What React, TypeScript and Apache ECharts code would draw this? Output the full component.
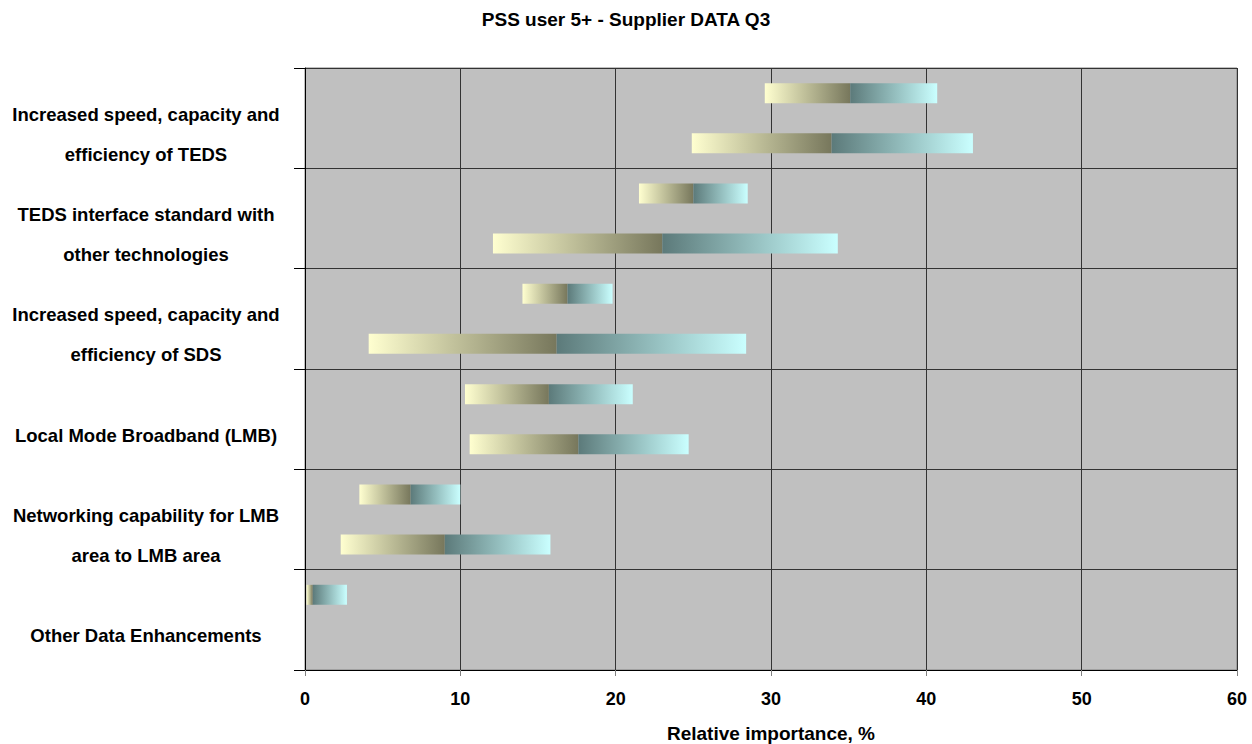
import React, { useEffect, useRef } from "react";
import * as echarts from "echarts";

const categories = [
  "Increased speed, capacity and\nefficiency of TEDS",
  "TEDS interface standard with\nother technologies",
  "Increased speed, capacity and\nefficiency of SDS",
  "Local Mode Broadband (LMB)",
  "Networking capability for LMB\narea to LMB area",
  "Other Data Enhancements",
];

// upper bar of each category
const upperStart = [29.6, 21.5, 14.0, 10.3, 3.5, 0.1];
const upperMid = [35.1, 25.0, 16.9, 15.7, 6.8, 0.5];
const upperEnd = [40.7, 28.5, 19.8, 21.1, 10.0, 2.7];

// lower bar of each category
const lowerStart = [24.9, 12.1, 4.1, 10.6, 2.3, 0];
const lowerMid = [33.9, 23.0, 16.2, 17.6, 9.0, 0];
const lowerEnd = [43.0, 34.3, 28.4, 24.7, 15.8, 0];

const xTicks = [0, 10, 20, 30, 40, 50, 60];

const FONT = "'Liberation Sans', Arial, sans-serif";

const leftGrad = () =>
  new echarts.graphic.LinearGradient(0, 0, 1, 0, [
    { offset: 0, color: "#FFFFD0" },
    { offset: 1, color: "#77775C" },
  ]);
const rightGrad = () =>
  new echarts.graphic.LinearGradient(0, 0, 1, 0, [
    { offset: 0, color: "#5C7A7A" },
    { offset: 1, color: "#CAFFFF" },
  ]);

function diff(a: number[], b: number[]) {
  return a.map((v, i) => +(v - b[i]).toFixed(3));
}

function makeStack(name: string, start: number[], mid: number[], end: number[]) {
  return [
    {
      type: "bar",
      stack: name,
      barWidth: 20,
      barGap: "150%",
      silent: true,
      itemStyle: { color: "transparent" },
      data: start,
    },
    {
      type: "bar",
      stack: name,
      barWidth: 20,
      barGap: "150%",
      itemStyle: { color: leftGrad() },
      data: diff(mid, start),
    },
    {
      type: "bar",
      stack: name,
      barWidth: 20,
      barGap: "150%",
      itemStyle: { color: rightGrad() },
      data: diff(end, mid),
    },
  ];
}

export default function App() {
  const ref = useRef<HTMLDivElement>(null);
  useEffect(() => {
    if (!ref.current) return;
    const chart = echarts.init(ref.current, null, { renderer: "svg" });
    chart.setOption({
      animation: false,
      backgroundColor: "#ffffff",
      textStyle: { fontFamily: FONT },
      title: {
        text: "PSS user 5+ - Supplier DATA Q3",
        left: "center",
        top: 5,
        textStyle: { fontFamily: FONT, fontSize: 19, fontWeight: "bold", color: "#000" },
      },
      grid: {
        left: 305,
        right: 15,
        top: 68,
        bottom: 74,
        containLabel: false,
        outerBoundsMode: "none",
        show: true,
        backgroundColor: "#C0C0C0",
        borderColor: "#808080",
        borderWidth: 1,
      },
      xAxis: {
        type: "value",
        min: xTicks[0],
        max: xTicks[xTicks.length - 1],
        interval: 10,
        name: "Relative importance, %",
        nameLocation: "middle",
        nameGap: 54,
        nameTextStyle: { fontFamily: FONT, fontSize: 19, fontWeight: "bold", color: "#000" },
        axisLine: { show: true, lineStyle: { color: "#000", width: 1 } },
        axisTick: { show: true, length: 6, lineStyle: { color: "#808080" } },
        axisLabel: { fontFamily: FONT, fontSize: 18, fontWeight: "bold", color: "#000", margin: 20 },
        splitLine: { show: true, lineStyle: { color: "#333", width: 1 } },
      },
      yAxis: {
        type: "category",
        inverse: true,
        data: categories,
        axisLine: { show: true, lineStyle: { color: "#000", width: 1 } },
        axisTick: { show: true, length: 11, lineStyle: { color: "#000" } },
        splitLine: { show: true, lineStyle: { color: "#333", width: 1 } },
        axisLabel: {
          interval: 0,
          hideOverlap: false,
          align: "center",
          margin: 159,
          formatter: (v: string) =>
            "{s| }\n" + v.split("\n").map((l) => "{a|" + l + "}").join("\n"),
          rich: {
            s: { lineHeight: 32, fontSize: 10 },
            a: {
              fontFamily: FONT,
              fontSize: 18.5,
              fontWeight: "bold",
              color: "#000",
              lineHeight: 40,
            },
          },
        },
      },
      series: [
        ...makeStack("upper", upperStart, upperMid, upperEnd),
        ...makeStack("lower", lowerStart, lowerMid, lowerEnd),
      ],
    });
    return () => chart.dispose();
  }, []);
  return (
    <div
      ref={ref}
      style={{ position: "absolute", left: 0, top: 0, width: 1252, height: 744 }}
    />
  );
}
